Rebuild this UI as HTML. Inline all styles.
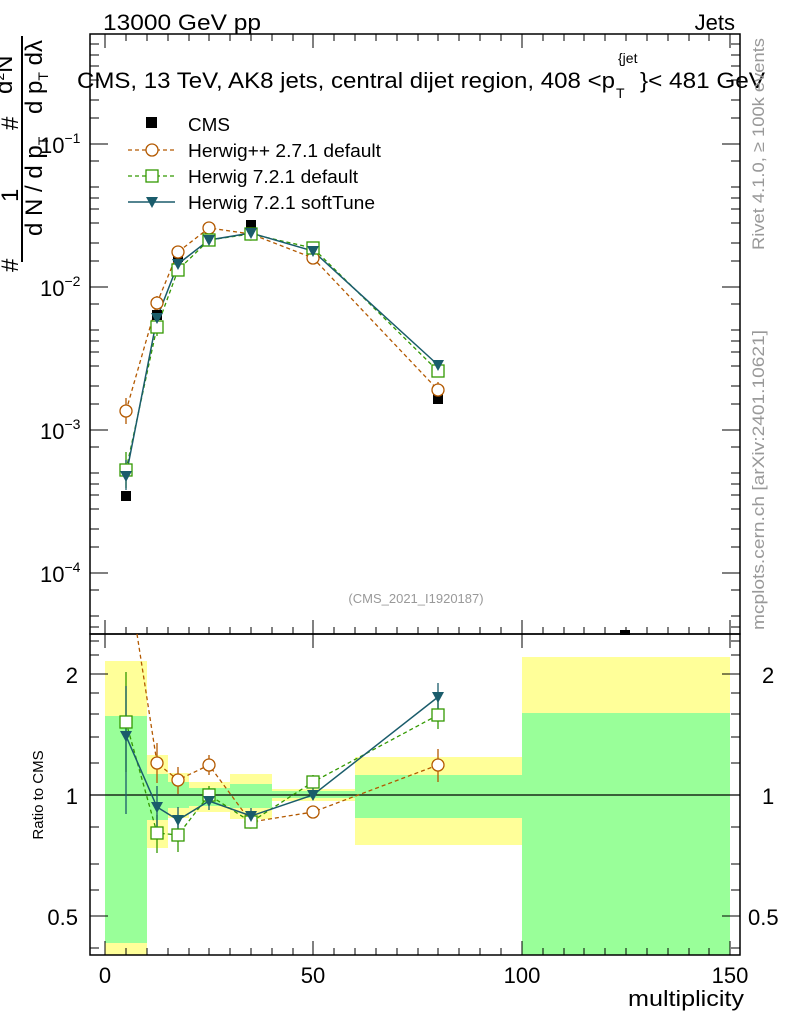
<!DOCTYPE html>
<html><head><meta charset="utf-8"><style>
body{margin:0;background:#fff}
svg{display:block;font-family:"Liberation Sans",sans-serif}
</style></head><body>
<svg width="786" height="1024" viewBox="0 0 786 1024" xmlns="http://www.w3.org/2000/svg">
<g>
<rect x="105" y="661" width="42" height="294" fill="#ffff99"/>
<rect x="105" y="716" width="42" height="227" fill="#99ff99"/>
<rect x="147" y="755" width="21" height="93" fill="#ffff99"/>
<rect x="147" y="774" width="21" height="46" fill="#99ff99"/>
<rect x="168" y="773" width="21" height="45" fill="#ffff99"/>
<rect x="168" y="782" width="21" height="26" fill="#99ff99"/>
<rect x="189" y="782" width="41" height="30" fill="#ffff99"/>
<rect x="189" y="788" width="41" height="18" fill="#99ff99"/>
<rect x="230" y="774" width="42" height="45" fill="#ffff99"/>
<rect x="230" y="784" width="42" height="24" fill="#99ff99"/>
<rect x="272" y="789" width="83" height="12" fill="#ffff99"/>
<rect x="272" y="791" width="83" height="7" fill="#99ff99"/>
<rect x="355" y="757" width="167" height="88" fill="#ffff99"/>
<rect x="355" y="775" width="167" height="43" fill="#99ff99"/>
<rect x="522" y="657" width="208" height="298" fill="#ffff99"/>
<rect x="522" y="713" width="208" height="242" fill="#99ff99"/>
</g>
<line x1="90" y1="795" x2="740" y2="795" stroke="#000" stroke-width="1.3"/>
<rect x="90" y="34" width="650" height="600" fill="none" stroke="#000" stroke-width="1.5"/>
<rect x="90" y="634" width="650" height="321" fill="none" stroke="#000" stroke-width="1.5"/>
<g stroke="#000" stroke-width="1">
<path d="M105,955v-14M313,955v-14M522,955v-14M730,955v-14M105,634v-14M313,634v-14M522,634v-14M730,634v-14M105,634v14M313,634v14M522,634v14M730,634v14M105,34v14M313,34v14M522,34v14M730,34v14"/>
<path d="M126,955v-7M147,955v-7M168,955v-7M189,955v-7M209,955v-7M230,955v-7M251,955v-7M272,955v-7M293,955v-7M334,955v-7M355,955v-7M376,955v-7M397,955v-7M418,955v-7M438,955v-7M459,955v-7M480,955v-7M501,955v-7M543,955v-7M564,955v-7M584,955v-7M605,955v-7M626,955v-7M647,955v-7M668,955v-7M689,955v-7M709,955v-7
M126,634v-7M147,634v-7M168,634v-7M189,634v-7M209,634v-7M230,634v-7M251,634v-7M272,634v-7M293,634v-7M334,634v-7M355,634v-7M376,634v-7M397,634v-7M418,634v-7M438,634v-7M459,634v-7M480,634v-7M501,634v-7M543,634v-7M564,634v-7M584,634v-7M605,634v-7M626,634v-7M647,634v-7M668,634v-7M689,634v-7M709,634v-7
M126,34v7M147,34v7M168,34v7M189,34v7M209,34v7M230,34v7M251,34v7M272,34v7M293,34v7M334,34v7M355,34v7M376,34v7M397,34v7M418,34v7M438,34v7M459,34v7M480,34v7M501,34v7M543,34v7M564,34v7M584,34v7M605,34v7M626,34v7M647,34v7M668,34v7M689,34v7M709,34v7"/>
<path d="M90,144h18M90,287h18M90,430h18M90,573h18M740,144h-18M740,287h-18M740,430h-18M740,573h-18"/>
<path d="M90,44h9M90,55h9M90,66h9M90,80h9M90,100h9M90,118h9M90,161h9M90,187h9M90,198h9M90,209h9M90,223h9M90,243h9M90,261h9M90,304h9M90,330h9M90,341h9M90,352h9M90,366h9M90,386h9M90,404h9M90,447h9M90,473h9M90,484h9M90,495h9M90,509h9M90,529h9M90,547h9M90,590h9M90,616h9M90,627h9
M740,44h-9M740,55h-9M740,66h-9M740,80h-9M740,100h-9M740,118h-9M740,161h-9M740,187h-9M740,198h-9M740,209h-9M740,223h-9M740,243h-9M740,261h-9M740,304h-9M740,330h-9M740,341h-9M740,352h-9M740,366h-9M740,386h-9M740,404h-9M740,447h-9M740,473h-9M740,484h-9M740,495h-9M740,509h-9M740,529h-9M740,547h-9M740,590h-9M740,616h-9M740,627h-9"/>
<path d="M90,674h18M90,795h18M90,916h18M740,674h-18M740,795h-18M740,916h-18"/>
<path d="M90,641h9M90,655h9M90,693h9M90,714h9M90,737h9M90,763h9M90,827h9M90,864h9M90,890h9M90,948h9M740,641h-9M740,655h-9M740,693h-9M740,714h-9M740,737h-9M740,763h-9M740,827h-9M740,864h-9M740,890h-9M740,948h-9"/>
</g>
<g font-size="22" fill="#000">
<text x="105" y="983" text-anchor="middle">0</text>
<text x="313" y="983" text-anchor="middle">50</text>
<text x="522" y="983" text-anchor="middle">100</text>
<text x="730" y="983" text-anchor="middle">150</text>
<text x="628" y="1006" textLength="116" lengthAdjust="spacingAndGlyphs">multiplicity</text>
<text x="762" y="683">2</text>
<text x="762" y="804">1</text>
<text x="748" y="925">0.5</text>
<text x="78" y="683" text-anchor="end">2</text>
<text x="78" y="804" text-anchor="end">1</text>
<text x="78" y="925" text-anchor="end">0.5</text>
<text x="40" y="153">10<tspan font-size="14" dy="-10">−1</tspan></text>
<text x="40" y="296">10<tspan font-size="14" dy="-10">−2</tspan></text>
<text x="40" y="439">10<tspan font-size="14" dy="-10">−3</tspan></text>
<text x="40" y="582">10<tspan font-size="14" dy="-10">−4</tspan></text>
<text x="103" y="30" textLength="158" lengthAdjust="spacingAndGlyphs">13000 GeV pp</text>
<text x="735" y="30" text-anchor="end">Jets</text>
<text x="77" y="88" textLength="538" lengthAdjust="spacingAndGlyphs">CMS, 13 TeV, AK8 jets, central dijet region, 408 &lt;p</text>
<text x="618" y="63" font-size="14">{jet</text>
<text x="616" y="98" font-size="14">T</text>
<text x="640" y="88" textLength="125" lengthAdjust="spacingAndGlyphs">}&lt; 481 GeV</text>
</g>
<text x="416" y="603" font-size="13" fill="#999" text-anchor="middle">(CMS_2021_I1920187)</text>
<text transform="translate(764,250) rotate(-90)" font-size="17" fill="#999" textLength="212" lengthAdjust="spacingAndGlyphs">Rivet 4.1.0, ≥ 100k events</text>
<text transform="translate(764,630) rotate(-90)" font-size="17" fill="#999" textLength="300" lengthAdjust="spacingAndGlyphs">mcplots.cern.ch [arXiv:2401.10621]</text>
<text transform="translate(43,795) rotate(-90)" font-size="15" text-anchor="middle">Ratio to CMS</text>
<g font-size="24" fill="#000">
<line x1="22" y1="36" x2="22" y2="262" stroke="#000" stroke-width="2"/>
<text transform="translate(18,272) rotate(-90)">#</text>
<text transform="translate(18,202) rotate(-90)">1</text>
<text transform="translate(18,130) rotate(-90)">#</text>
<text transform="translate(12,94) rotate(-90)">d<tspan font-size="14" dy="-8">2</tspan><tspan dy="8">N</tspan></text>
<text transform="translate(42,236) rotate(-90)">d N / d p<tspan font-size="14" dy="6">T</tspan></text>
<text transform="translate(42,114) rotate(-90)">d p<tspan font-size="14" dy="6">T</tspan><tspan dy="-6"> dλ</tspan></text>
</g>
<rect x="146" y="117" width="11" height="11" fill="#000"/>
<g font-size="18">
<text x="188" y="131" textLength="42" lengthAdjust="spacingAndGlyphs">CMS</text>
<text x="188" y="157" textLength="193" lengthAdjust="spacingAndGlyphs">Herwig++ 2.7.1 default</text>
<text x="188" y="183" textLength="170" lengthAdjust="spacingAndGlyphs">Herwig 7.2.1 default</text>
<text x="188" y="209" textLength="187" lengthAdjust="spacingAndGlyphs">Herwig 7.2.1 softTune</text>
</g>
<line x1="128" y1="150" x2="175" y2="150" stroke="#b35900" stroke-width="1.3" stroke-dasharray="4,3"/>
<circle cx="152" cy="150" r="6" fill="#fff" stroke="#b35900" stroke-width="1.3"/>
<line x1="128" y1="176" x2="175" y2="176" stroke="#339900" stroke-width="1.3" stroke-dasharray="4,3"/>
<rect x="146" y="170" width="12" height="12" fill="#fff" stroke="#339900" stroke-width="1.3"/>
<line x1="128" y1="202" x2="175" y2="202" stroke="#1a5c6b" stroke-width="1.5"/>
<path d="M146,197h12l-6,11z" fill="#1a5c6b"/>
<g fill="none" stroke-width="1.3">
<polyline stroke="#b35900" stroke-dasharray="4,3" points="126,411 157,303 178,252 209,228 251,234 313,258 438,390"/>
<polyline stroke="#339900" stroke-dasharray="4,3" points="126,470 157,327 178,270 209,240 251,234 313,248 438,371"/>
<polyline stroke="#1a5c6b" stroke-width="1.5" points="126,476 157,318 178,264 209,240 251,233 313,251 438,365"/>
<path stroke="#b35900" d="M126,398v26M157,296v14M438,382v16"/>
<path stroke="#339900" d="M126,452v36M157,318v18"/>
<path stroke="#1a5c6b" d="M126,460v30"/>
</g>
<g fill="#000">
<rect x="121" y="491" width="10" height="10"/><rect x="152" y="310" width="10" height="10"/><rect x="173" y="252" width="10" height="10"/><rect x="204" y="234" width="10" height="10"/><rect x="246" y="220" width="10" height="10"/><rect x="308" y="247" width="10" height="10"/><rect x="433" y="394" width="10" height="10"/><rect x="620" y="630" width="10" height="5"/>
</g>
<g fill="#fff" stroke="#b35900" stroke-width="1.3">
<circle cx="126" cy="411" r="6"/><circle cx="157" cy="303" r="6"/><circle cx="178" cy="252" r="6"/><circle cx="209" cy="228" r="6"/><circle cx="251" cy="234" r="6"/><circle cx="313" cy="258" r="6"/><circle cx="438" cy="390" r="6"/>
</g>
<g fill="#fff" stroke="#339900" stroke-width="1.3">
<rect x="120" y="464" width="12" height="12"/><rect x="151" y="321" width="12" height="12"/><rect x="172" y="264" width="12" height="12"/><rect x="203" y="234" width="12" height="12"/><rect x="245" y="228" width="12" height="12"/><rect x="307" y="242" width="12" height="12"/><rect x="432" y="365" width="12" height="12"/>
</g>
<g fill="#1a5c6b">
<path d="M120,471h12l-6,11z"/><path d="M151,313h12l-6,11z"/><path d="M172,259h12l-6,11z"/><path d="M203,235h12l-6,11z"/><path d="M245,228h12l-6,11z"/><path d="M307,246h12l-6,11z"/><path d="M432,360h12l-6,11z"/>
</g>
<g fill="none" stroke-width="1.3">
<polyline stroke="#b35900" stroke-dasharray="4,3" points="137,634 157,763 178,780 209,765 251,822 313,812 438,765"/>
<polyline stroke="#339900" stroke-dasharray="4,3" points="126,722 157,833 178,835 209,795 251,822 313,782 438,715"/>
<polyline stroke="#1a5c6b" stroke-width="1.5" points="126,736 157,807 178,820 209,801 251,816 313,795 438,697"/>
<path stroke="#b35900" d="M157,743v40M178,767v27M209,755v20M251,815v12M313,806v12M438,749v33"/>
<path stroke="#339900" d="M126,672v100M157,815v38M178,820v32M209,786v18M251,815v12M313,775v12M438,701v28"/>
<path stroke="#1a5c6b" d="M126,686v128M157,786v42M178,807v27M209,792v18M251,808v12M313,788v12M438,683v28"/>
</g>
<g fill="#fff" stroke="#b35900" stroke-width="1.3">
<circle cx="157" cy="763" r="6"/><circle cx="178" cy="780" r="6"/><circle cx="209" cy="765" r="6"/><circle cx="251" cy="822" r="6"/><circle cx="313" cy="812" r="6"/><circle cx="438" cy="765" r="6"/>
</g>
<g fill="#fff" stroke="#339900" stroke-width="1.3">
<rect x="120" y="716" width="12" height="12"/><rect x="151" y="827" width="12" height="12"/><rect x="172" y="829" width="12" height="12"/><rect x="203" y="789" width="12" height="12"/><rect x="245" y="816" width="12" height="12"/><rect x="307" y="776" width="12" height="12"/><rect x="432" y="709" width="12" height="12"/>
</g>
<g fill="#1a5c6b">
<path d="M120,731h12l-6,11z"/><path d="M151,802h12l-6,11z"/><path d="M172,815h12l-6,11z"/><path d="M203,796h12l-6,11z"/><path d="M245,811h12l-6,11z"/><path d="M307,790h12l-6,11z"/><path d="M432,692h12l-6,11z"/>
</g>
</svg>
</body></html>
